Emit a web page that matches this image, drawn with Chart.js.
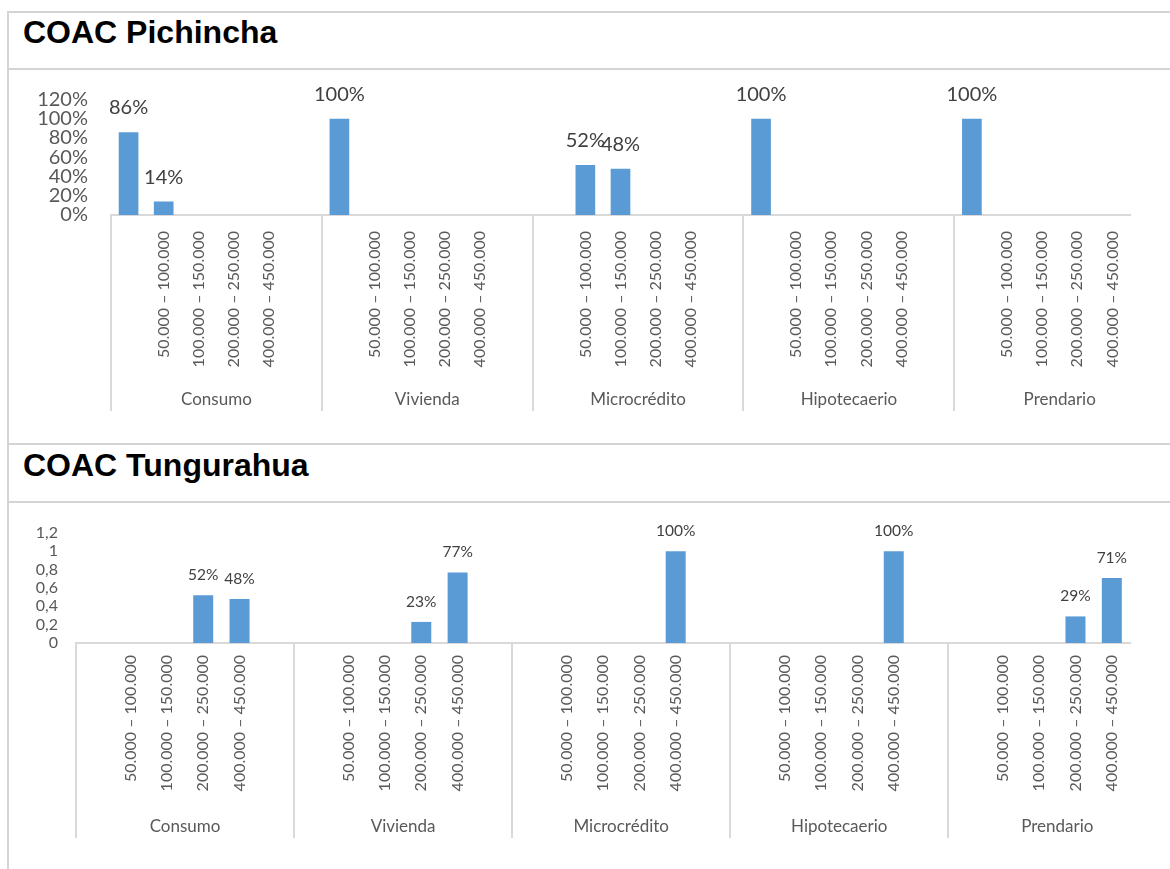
<!DOCTYPE html>
<html><head><meta charset="utf-8">
<script src="https://cdn.jsdelivr.net/npm/chart.js@4.4.1/dist/chart.umd.min.js"></script>
<style>
html,body{margin:0;padding:0;background:#fff;width:1170px;height:869px;overflow:hidden;}
.hl{position:absolute;left:7px;right:0;height:2px;background:#d4d4d4;}
.vl{position:absolute;left:7px;top:11px;width:2px;bottom:0;background:#d4d4d4;}
.title{position:absolute;left:23px;font:bold 32px "Liberation Sans",Arial,sans-serif;line-height:32px;color:#000;white-space:nowrap;}
.box{position:absolute;left:0;width:1170px;}
canvas{display:block;}
</style></head><body>
<div class="vl"></div>
<div class="hl" style="top:11px"></div>
<div class="hl" style="top:68px"></div>
<div class="hl" style="top:443px"></div>
<div class="hl" style="top:501px"></div>
<div class="title" style="top:16px">COAC Pichincha</div>
<div class="title" style="top:449px">COAC Tungurahua</div>
<div class="box" style="top:70px;height:373px"><canvas id="c1" width="1170" height="373"></canvas></div>
<div class="box" style="top:503px;height:366px"><canvas id="c2" width="1170" height="366"></canvas></div>
<script>
// ---- data ----
const groups = ["Consumo", "Vivienda", "Microcrédito", "Hipotecaerio", "Prendario"];
const rangeLabels = ["", "50.000 – 100.000", "100.000 – 150.000", "200.000 – 250.000", "400.000 – 450.000", ""];

const pichinchaConsumo     = [0.86, 0.14, null, null, null, null];
const pichinchaVivienda    = [1.00, null, null, null, null, null];
const pichinchaMicro       = [null, 0.52, 0.48, null, null, null];
const pichinchaHipotecario = [1.00, null, null, null, null, null];
const pichinchaPrendario   = [1.00, null, null, null, null];

const tungConsumo     = [null, null, null, 0.52, 0.48, null];
const tungVivienda    = [null, null, null, 0.23, 0.77, null];
const tungMicro       = [null, null, null, null, 1.00, null];
const tungHipotecario = [null, null, null, null, 1.00, null];
const tungPrendario   = [null, null, null, 0.29, 0.71];

const pichinchaYTicks = ["0%", "20%", "40%", "60%", "80%", "100%", "120%"];
const tungYTicks = ["0", "0,2", "0,4", "0,6", "0,8", "1", "1,2"];

// ---- build flat arrays ----
function flatten(groupArrays) {
  const labels = [], values = [], starts = [];
  groupArrays.forEach((arr) => {
    starts.push(labels.length);
    arr.forEach((v, j) => { labels.push(rangeLabels[j]); values.push(v); });
  });
  return {labels, values, starts};
}
const pich = flatten([pichinchaConsumo, pichinchaVivienda, pichinchaMicro, pichinchaHipotecario, pichinchaPrendario]);
const tung = flatten([tungConsumo, tungVivienda, tungMicro, tungHipotecario, tungPrendario]);

const FONT = "Lato, 'Open Sans', sans-serif";

const valueLabels = {
  id: 'valueLabels',
  afterDatasetsDraw(chart, args, o) {
    const ctx = chart.ctx;
    const meta = chart.getDatasetMeta(0);
    const data = chart.data.datasets[0].data;
    ctx.save();
    ctx.font = o.size + 'px ' + FONT;
    ctx.fillStyle = '#404040';
    ctx.textAlign = 'center';
    ctx.textBaseline = 'alphabetic';
    meta.data.forEach((bar, i) => {
      const v = data[i];
      if (v === null || v === undefined) return;
      ctx.fillText(Math.round(v * 100) + '%', bar.x, bar.y - o.gap);
    });
    ctx.restore();
  }
};

const groupAxis = {
  id: 'groupAxis',
  afterDraw(chart, args, o) {
    const ctx = chart.ctx;
    const xs = chart.scales.x;
    const top = chart.chartArea.bottom;
    ctx.save();
    ctx.strokeStyle = '#d9d9d9';
    ctx.lineWidth = 2;
    o.starts.forEach((s) => {
      const x = Math.round(xs.getPixelForValue(s - 0.5));
      ctx.beginPath();
      ctx.moveTo(x, top);
      ctx.lineTo(x, o.lineBottom);
      ctx.stroke();
    });
    ctx.font = o.size + 'px ' + FONT;
    ctx.fillStyle = '#595959';
    ctx.textAlign = 'center';
    ctx.textBaseline = 'middle';
    o.starts.forEach((s, g) => {
      ctx.fillText(groups[g], xs.getPixelForValue(s + 2.5), o.labelY);
    });
    ctx.restore();
  }
};

function makeChart(id, set, yTicks, o) {
  return new Chart(document.getElementById(id), {
    type: 'bar',
    data: {
      labels: set.labels,
      datasets: [{
        data: set.values,
        backgroundColor: '#5B9BD5',
        barPercentage: o.barPct,
        categoryPercentage: 1
      }]
    },
    plugins: [valueLabels, groupAxis],
    options: {
      responsive: false,
      animation: false,
      events: [],
      layout: {padding: {top: o.padTop, right: 40, left: 0, bottom: 0}},
      plugins: {
        legend: {display: false},
        tooltip: {enabled: false},
        valueLabels: {size: o.valueSize, gap: o.valueGap},
        groupAxis: {starts: set.starts, lineBottom: o.lineBottom, labelY: o.groupY, size: 17}
      },
      scales: {
        x: {
          grid: {display: false, drawTicks: false},
          border: {display: true, color: '#d9d9d9', width: 2},
          ticks: {
            autoSkip: false, maxRotation: 90, minRotation: 90,
            padding: o.xPad,
            font: {family: FONT, size: o.xSize}, color: '#595959'
          },
          afterFit(s) { s.height = o.xHeight; }
        },
        y: {
          min: 0, max: 1.2,
          grid: {display: false, drawTicks: true, tickLength: o.yPad},
          border: {display: false},
          ticks: {
            stepSize: 0.2,
            autoSkip: false,
            padding: 0,
            font: {family: FONT, size: o.ySize}, color: '#595959',
            callback: (v, i) => yTicks[i]
          },
          afterFit(s) { s.width = o.yWidth; }
        }
      }
    }
  });
}

function draw() {
  makeChart('c1', pich, pichinchaYTicks, {
    barPct: 0.56, padTop: 29.5, xHeight: 228, xPad: 16, xSize: 16, yPad: 23, yWidth: 111, ySize: 20,
    valueSize: 20, valueGap: 18, lineBottom: 341, groupY: 330
  });
  makeChart('c2', tung, tungYTicks, {
    barPct: 0.55, padTop: 30, xHeight: 226, xPad: 12, xSize: 16, yPad: 18, yWidth: 76, ySize: 16,
    valueSize: 15.5, valueGap: 15, lineBottom: 335, groupY: 324
  });
}
if (document.fonts && document.fonts.load) {
  Promise.all([document.fonts.load('17px Lato'), document.fonts.load('bold 32px "Liberation Sans"')]).then(draw, draw);
} else { draw(); }
</script>
</body></html>
